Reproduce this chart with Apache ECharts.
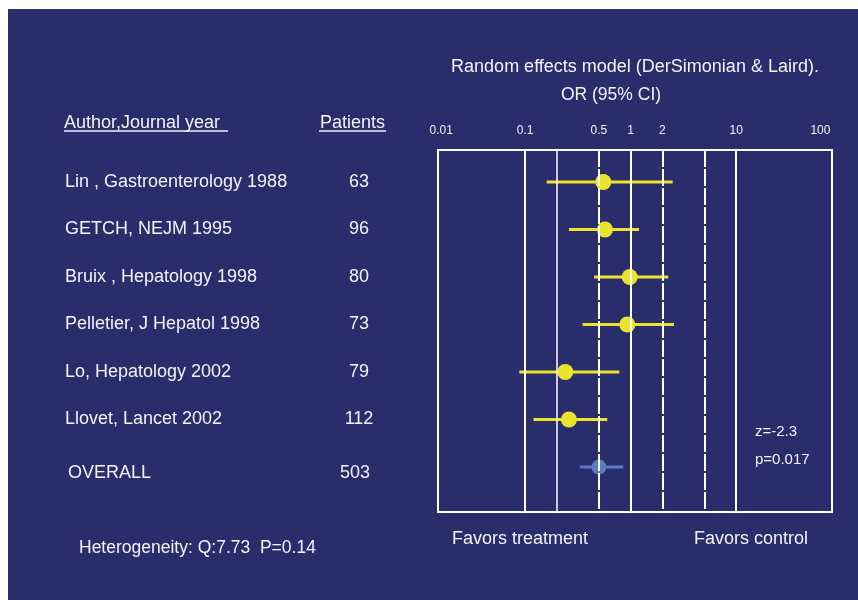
<!DOCTYPE html>
<html>
<head>
<meta charset="utf-8">
<script src="https://cdn.jsdelivr.net/npm/echarts@6/dist/echarts.min.js"></script>
<style>
	html, body { margin: 0; background: #fff; }
	#main {
		position: absolute;
		left: 8px;
		top: 9px;
		width: 850px;
		height: 591px;
	}
</style>
</head>
<body>
<div id="main"></div>
<script>
	// 研究列表 / 数据
	var studies = ['Lin , Gastroenterology 1988', 'GETCH, NEJM 1995', 'Bruix , Hepatology 1998',
		'Pelletier, J Hepatol 1998', 'Lo, Hepatology 2002', 'Llovet, Lancet 2002', 'OVERALL'];
	var patients = [63, 96, 80, 73, 79, 112, 503];
	var oddsRatio = [0.55, 0.57, 0.98, 0.93, 0.24, 0.26, 0.50];
	var ciLow = [0.16, 0.26, 0.45, 0.35, 0.088, 0.12, 0.33];
	var ciHigh = [2.5, 1.2, 2.27, 2.57, 0.78, 0.60, 0.85];
	var tickLabels = ['0.01', '0.1', '0.5', '1', '2', '10', '100'];
	var tickValues = [0.01, 0.1, 0.5, 1, 2, 10, 100];
	var solidRefs = [0.1, 0.2, 1, 10];
	var dashedRefs = [0.5, 2, 5];

	var NAVY = '#2a2d6b';
	var TEXT = '#f2f2f7';
	var YELLOW = '#ece42c';
	var BLUE = '#5a7ac2';
	var FONT = '"Liberation Sans", Arial, sans-serif';
	var X_MIN = -1.826, X_MAX = 1.908;

	var lg = function (v) { return Math.log(v) / Math.LN10; };
	var overallIdx = studies.length - 1;

	// 刻度标签位置 (0.01 / 100 落在边框内侧)
	var labelPos = tickValues.map(function (v) {
		return Math.min(Math.max(lg(v), X_MIN + 0.03), X_MAX - 0.11);
	});

	var refLines = [];
	solidRefs.forEach(function (v) {
		refLines.push({ xAxis: lg(v), lineStyle: { color: '#fff', width: v === 0.2 ? 1.5 : 2, type: 'solid' } });
	});
	dashedRefs.forEach(function (v) {
		refLines.push({ xAxis: lg(v), lineStyle: { color: '#fff', width: 2, type: [17, 2] } });
	});

	function txt(x, y, s, size, align) {
		return {
			type: 'text', x: x, y: y,
			style: { text: s, fill: TEXT, font: size + 'px ' + FONT, textAlign: align || 'left', textVerticalAlign: 'middle' }
		};
	}

	var chart = echarts.init(document.getElementById('main'));
	var option = {
		animation: false,
		backgroundColor: NAVY,
		textStyle: { fontFamily: FONT },
		grid: {
			left: 430,
			top: 141,
			width: 394,
			height: 362,
			show: true,
			borderColor: '#fff',
			borderWidth: 2,
			backgroundColor: 'transparent'
		},
		xAxis: {
			type: 'value',
			position: 'top',
			min: X_MIN,
			max: X_MAX,
			axisLine: { show: false },
			splitLine: { show: false },
			axisTick: {
				show: true,
				length: 9,
				customValues: [-1, 0, 1],
				lineStyle: { color: '#fff', width: 2 }
			},
			axisLabel: {
				customValues: labelPos,
				margin: 13,
				color: TEXT,
				fontSize: 12,
				fontFamily: FONT,
				formatter: function (val) {
					var best = 0;
					labelPos.forEach(function (p, i) {
						if (Math.abs(p - val) < Math.abs(labelPos[best] - val)) best = i;
					});
					return tickLabels[best];
				}
			}
		},
		yAxis: {
			type: 'value',
			inverse: true,
			min: -0.674,
			max: 6.947,
			axisLine: { show: false },
			axisTick: { show: false },
			splitLine: { show: false },
			axisLabel: {
				customValues: [0, 1, 2, 3, 4, 5, 6],
				align: 'left',
				margin: 373,
				formatter: function (val) {
					var k = val === overallIdx ? 'o' : '';
					return '{n' + k + '|' + studies[val] + '}{p' + k + '|' + patients[val] + '}';
				},
				rich: {
					n: { width: 262, align: 'left', color: TEXT, fontSize: 18, fontFamily: FONT },
					p: { width: 64, align: 'center', color: TEXT, fontSize: 18, fontFamily: FONT },
					no: { width: 262, align: 'left', color: TEXT, fontSize: 18, fontFamily: FONT, padding: [12, 0, 0, 3] },
					po: { width: 50, align: 'center', color: TEXT, fontSize: 18, fontFamily: FONT, padding: [12, 0, 0, 0] }
				}
			}
		},
		graphic: [
			txt(627, 58, 'Random effects model (DerSimonian & Laird).', 18, 'center'),
			txt(603, 86, 'OR (95% CI)', 17.5, 'center'),
			txt(56, 114, 'Author,Journal year', 18),
			{ type: 'line', shape: { x1: 56, y1: 122, x2: 220, y2: 122 }, style: { stroke: TEXT, lineWidth: 1.5 } },
			txt(312, 114, 'Patients', 18),
			{ type: 'line', shape: { x1: 311, y1: 122, x2: 378, y2: 122 }, style: { stroke: TEXT, lineWidth: 1.5 } },
			txt(747, 423, 'z=-2.3', 15),
			txt(747, 451, 'p=0.017', 15),
			txt(444, 530, 'Favors treatment', 18),
			txt(686, 530, 'Favors control', 18),
			txt(71, 539, 'Heterogeneity: Q:7.73  P=0.14', 17.5)
		],
		series: [
			{
				// 参考线
				type: 'line',
				data: [],
				z: 1,
				markLine: {
					silent: true,
					symbol: ['none', 'none'],
					label: { show: false },
					data: refLines
				}
			},
			{
				// 置信区间
				type: 'custom',
				z: 2,
				data: studies.map(function (s, i) { return [lg(ciLow[i]), lg(ciHigh[i]), i]; }),
				encode: { x: [0, 1], y: 2 },
				renderItem: function (params, api) {
					var a = api.coord([api.value(0), api.value(2)]);
					var b = api.coord([api.value(1), api.value(2)]);
					return {
						type: 'line',
						shape: { x1: a[0], y1: a[1], x2: b[0], y2: b[1] },
						style: { stroke: params.dataIndex === overallIdx ? BLUE : YELLOW, lineWidth: 3 }
					};
				}
			},
			{
				type: 'scatter',
				z: 3,
				symbol: 'circle',
				data: studies.map(function (s, i) {
					return {
						value: [lg(oddsRatio[i]), i],
						symbolSize: i === overallIdx ? 15 : 16,
						itemStyle: { color: i === overallIdx ? BLUE : YELLOW, opacity: 1 }
					};
				})
			}
		]
	};
	chart.setOption(option);
</script>
</body>
</html>
